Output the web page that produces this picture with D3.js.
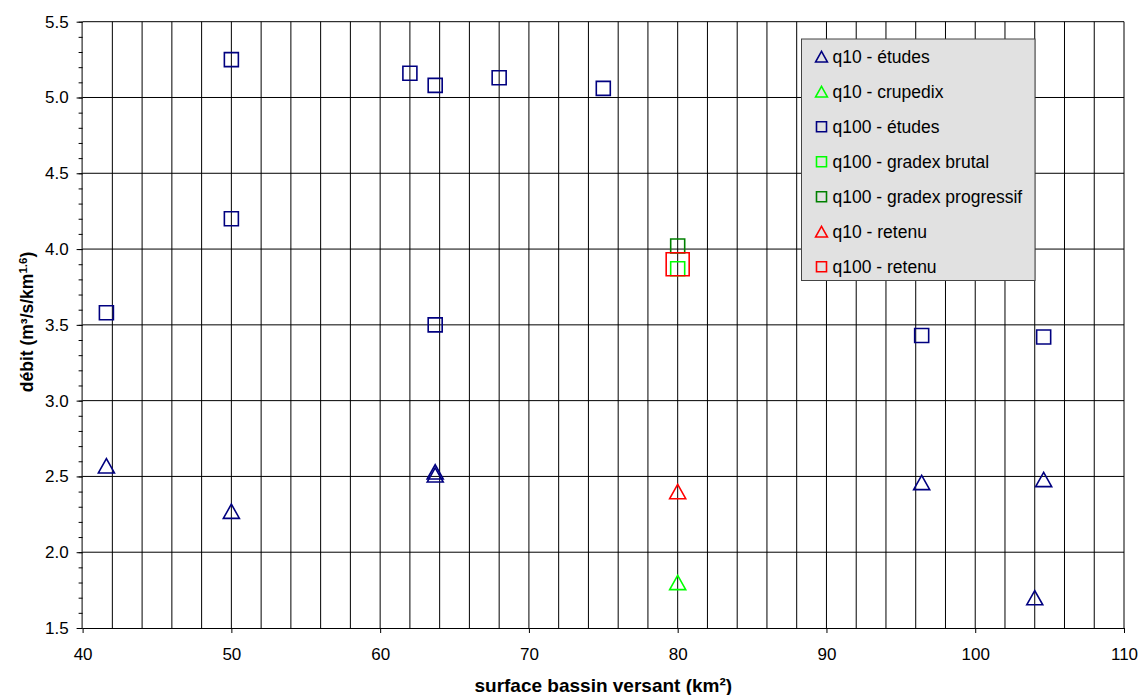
<!DOCTYPE html>
<html>
<head>
<meta charset="utf-8">
<script src="https://cdn.jsdelivr.net/npm/d3@7"></script>
<style>
  body { margin: 0; background: #fff; }
  text { font-family: "Liberation Sans", Arial, sans-serif; fill: #000; }
</style>
</head>
<body>
<div id="chart"></div>
<script>
// values
const q10EtudesX = [41.6, 50, 63.7, 63.7, 96.4, 104.6, 104];
const q10EtudesY = [2.57, 2.27, 2.53, 2.51, 2.46, 2.48, 1.70];
const q10CrupedixX = [80];
const q10CrupedixY = [1.80];
const q100EtudesX = [41.6, 50, 50, 62, 63.7, 63.7, 68, 75, 96.4, 104.6];
const q100EtudesY = [3.58, 5.25, 4.20, 5.16, 5.08, 3.50, 5.13, 5.06, 3.43, 3.42];
const q100BrutalX = [80];
const q100BrutalY = [3.87];
const q100ProgressifX = [80];
const q100ProgressifY = [4.02];
const q10RetenuX = [80];
const q10RetenuY = [2.40];
const q100RetenuX = [80];
const q100RetenuY = [3.90];

const xTicks = [40, 50, 60, 70, 80, 90, 100, 110];
const yTicks = [1.5, 2.0, 2.5, 3.0, 3.5, 4.0, 4.5, 5.0, 5.5];

const series = [
    {label: "q10 - études", xs: q10EtudesX, ys: q10EtudesY, color: "#000080", shape: "tri", size: 15},
    {label: "q10 - crupedix", xs: q10CrupedixX, ys: q10CrupedixY, color: "#00ff00", shape: "tri", size: 15},
    {label: "q100 - études", xs: q100EtudesX, ys: q100EtudesY, color: "#000080", shape: "sq", size: 14},
    {label: "q100 - gradex brutal", xs: q100BrutalX, ys: q100BrutalY, color: "#00ff00", shape: "sq", size: 14},
    {label: "q100 - gradex progressif", xs: q100ProgressifX, ys: q100ProgressifY, color: "#008000", shape: "sq", size: 14},
    {label: "q10 - retenu", xs: q10RetenuX, ys: q10RetenuY, color: "#ff0000", shape: "tri", size: 15},
    {label: "q100 - retenu", xs: q100RetenuX, ys: q100RetenuY, color: "#ff0000", shape: "sq", size: 23}
];

const W = 1140, H = 695;
const margin = {left: 82.6, top: 21.7, right: 16, bottom: 67};

const svg = d3.select("#chart")
    .append("svg")
    .attr("width", W)
    .attr("height", H);

const x = d3.scaleLinear()
    .domain([40, 110])
    .range([margin.left, W - margin.right]);

const y = d3.scaleLinear()
    .domain([1.5, 5.5])
    .range([H - margin.bottom, margin.top]);

// grid
const grid = svg.append("g");
grid.selectAll(".vg")
    .data(d3.range(42, 110.01, 2))
    .enter().append("line")
    .attr("x1", d => x(d)).attr("x2", d => x(d))
    .attr("y1", y(1.5)).attr("y2", y(5.5))
    .attr("stroke", "#000").attr("stroke-width", 1);
grid.selectAll(".hg")
    .data(yTicks.slice(1))
    .enter().append("line")
    .attr("x1", x(40)).attr("x2", x(110))
    .attr("y1", d => y(d)).attr("y2", d => y(d))
    .attr("stroke", "#000").attr("stroke-width", 1);

// y axis: major ticks + minor ticks
svg.append("g")
    .attr("transform", "translate(" + x(40) + ",0)")
    .call(d3.axisLeft(y).tickValues(d3.range(1.5, 5.51, 0.1)).tickSize(4).tickFormat(""))
    .call(g => g.select(".domain").remove());
const yAxis = svg.append("g")
    .attr("transform", "translate(" + x(40) + ",0)")
    .call(d3.axisLeft(y).tickValues(yTicks).tickSize(6).tickPadding(8).tickFormat(d3.format(".1f")));
yAxis.select(".domain").attr("d", "M-0.5," + y(1.5) + "V" + y(5.5));

const xAxis = svg.append("g")
    .attr("transform", "translate(0," + y(1.5) + ")")
    .call(d3.axisBottom(x).tickValues(xTicks).tickSize(5).tickPadding(15).tickSizeOuter(0));

svg.selectAll(".tick text").style("font-size", "17px");
svg.selectAll(".tick line, .domain").attr("stroke", "#000");

// markers
function markerPath(shape, s) {
    if (shape === "sq") {
        const h = s / 2;
        return "M" + (-h) + "," + (-h) + "H" + h + "V" + h + "H" + (-h) + "Z";
    }
    const w = s * 1.07 / 2, h = s * 0.95 / 2;
    return "M" + (-w) + "," + h + "L0," + (-h) + "L" + w + "," + h + "Z";
}

series.forEach(function(s) {
    const pts = s.xs.map((v, i) => [v, s.ys[i]]);
    svg.append("g").selectAll("path")
        .data(pts)
        .enter().append("path")
        .attr("transform", d => "translate(" + x(d[0]) + "," + y(d[1]) + ")")
        .attr("d", markerPath(s.shape, s.size))
        .attr("fill", "none")
        .attr("stroke", s.color)
        .attr("stroke-width", 1.6);
});

// legend
const legend = svg.append("g").attr("transform", "translate(801.5,39)");
legend.append("rect")
    .attr("width", 233.5).attr("height", 241.5)
    .attr("fill", "#e1e1e1").attr("stroke", "#444").attr("stroke-width", 1);
series.forEach(function(s, i) {
    const row = legend.append("g").attr("transform", "translate(20," + (17.7 + i * 35) + ")");
    row.append("path")
        .attr("d", markerPath(s.shape, s.shape === "tri" ? 11 : 10))
        .attr("fill", "none")
        .attr("stroke", s.color)
        .attr("stroke-width", 1.6);
    row.append("text")
        .attr("x", 11)
        .attr("y", 6)
        .style("font-size", "17.5px")
        .text(s.label);
});

// axis titles
svg.append("text")
    .attr("x", (x(40) + x(110)) / 2)
    .attr("y", 692)
    .attr("text-anchor", "middle")
    .style("font-size", "19px")
    .style("font-weight", "bold")
    .text("surface bassin versant (km²)");

const yTitle = svg.append("text")
    .attr("transform", "translate(33,322) rotate(-90)")
    .attr("text-anchor", "middle")
    .style("font-size", "17.5px")
    .style("font-weight", "bold");
yTitle.append("tspan").text("débit (m³/s/km");
yTitle.append("tspan").attr("baseline-shift", "super").style("font-size", "11.5px").text("1.6");
yTitle.append("tspan").text(")");
</script>
</body>
</html>
